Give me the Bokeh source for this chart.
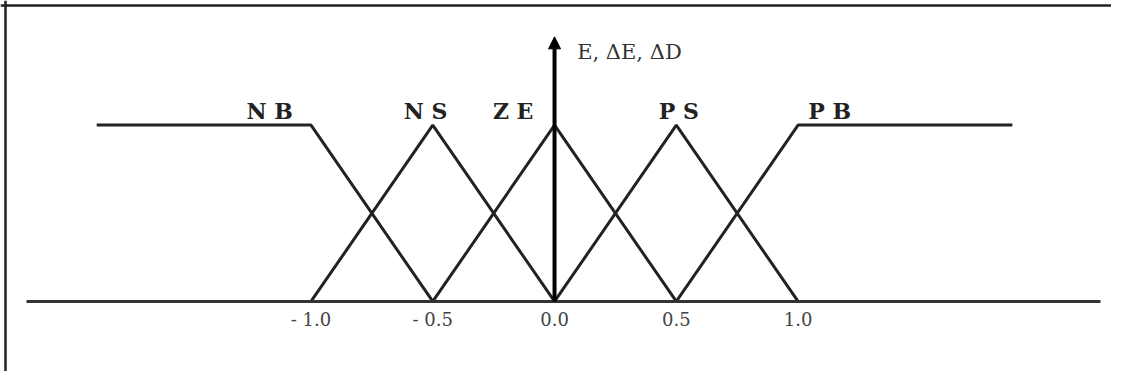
from bokeh.plotting import figure
from bokeh.models import LinearAxis, FixedTicker, Arrow, NormalHead, ColumnDataSource, Range1d, Span
from bokeh.core.properties import value
from bokeh.embed import file_html
from bokeh.resources import INLINE

# ---- data ----
term_names = ["N B", "N S", "Z E", "P S", "P B"]
nb_x = [-1.88, -1.0, -0.5]
nb_y = [1.0, 1.0, 0.0]
ns_x = [-1.0, -0.5, 0.0]
ns_y = [0.0, 1.0, 0.0]
ze_x = [-0.5, 0.0, 0.5]
ze_y = [0.0, 1.0, 0.0]
ps_x = [0.0, 0.5, 1.0]
ps_y = [0.0, 1.0, 0.0]
pb_x = [0.5, 1.0, 1.88]
pb_y = [0.0, 1.0, 1.0]
label_x = [-1.17, -0.53, -0.17, 0.51, 1.13]
label_y = [1.08, 1.08, 1.08, 1.08, 1.08]
tick_values = [-1.0, -0.5, 0.0, 0.5, 1.0]
tick_labels = ["- 1.0", "- 0.5", "0.0", "0.5", "1.0"]
x_axis_extent = (-2.17, 2.24)
y_axis_top = 1.5
y_axis_label = "E, ΔE, ΔD"
y_axis_label_pos = (0.093, 1.413)

W, H = 1111, 371
X0, X1 = -2.275, 2.287
Y0, Y1 = -0.397, 1.706
PXX = W / (X1 - X0)
PXY = H / (Y1 - Y0)

# ---- figure ----
p = figure(width=W, height=H,
           x_range=Range1d(X0, X1), y_range=Range1d(Y0, Y1),
           output_backend="svg", toolbar_location=None, min_border=0,
           x_axis_type=None, y_axis_type=None)
p.outline_line_color = None
p.background_fill_color = "white"
p.border_fill_color = "white"

# picture frame (top and left edges)
p.add_layout(Span(location=X0 + 5 / PXX, dimension="height", line_color="#222", line_width=2.5))
p.add_layout(Span(location=Y1 - 5 / PXY, dimension="width", line_color="#222", line_width=2.5))

src = ColumnDataSource(dict(xs=[nb_x, ns_x, ze_x, ps_x, pb_x],
                            ys=[nb_y, ns_y, ze_y, ps_y, pb_y]))
p.multi_line("xs", "ys", source=src, line_width=3, line_color="#222")

ax = LinearAxis(fixed_location=0, bounds=x_axis_extent,
                ticker=FixedTicker(ticks=tick_values),
                major_label_overrides={v: l for v, l in zip(tick_values, tick_labels)})
ax.axis_line_width = 3
ax.axis_line_color = "#333"
ax.major_tick_line_color = None
ax.minor_tick_line_color = None
ax.major_tick_out = 0
ax.major_tick_in = 0
ax.major_label_standoff = 8
ax.major_label_text_font = "DejaVu Serif"
ax.major_label_text_font_size = "18px"
ax.major_label_text_color = "#444"
p.add_layout(ax, "below")

p.add_layout(Arrow(end=NormalHead(size=12, fill_color="black", line_color="black"),
                   x_start=0, y_start=0, x_end=0, y_end=y_axis_top,
                   line_width=4, line_color="black"))

p.text(x=label_x, y=label_y, text=term_names,
       text_font=value("DejaVu Serif"), text_font_style="bold",
       text_font_size="22px", text_align="center", text_baseline="middle",
       text_color="#222")

p.text(x=[y_axis_label_pos[0]], y=[y_axis_label_pos[1]], text=[y_axis_label],
       text_font=value("DejaVu Serif"), text_font_size="21px",
       text_align="left", text_baseline="middle", text_color="#333")

open("out.html", "w").write(file_html(p, INLINE))
